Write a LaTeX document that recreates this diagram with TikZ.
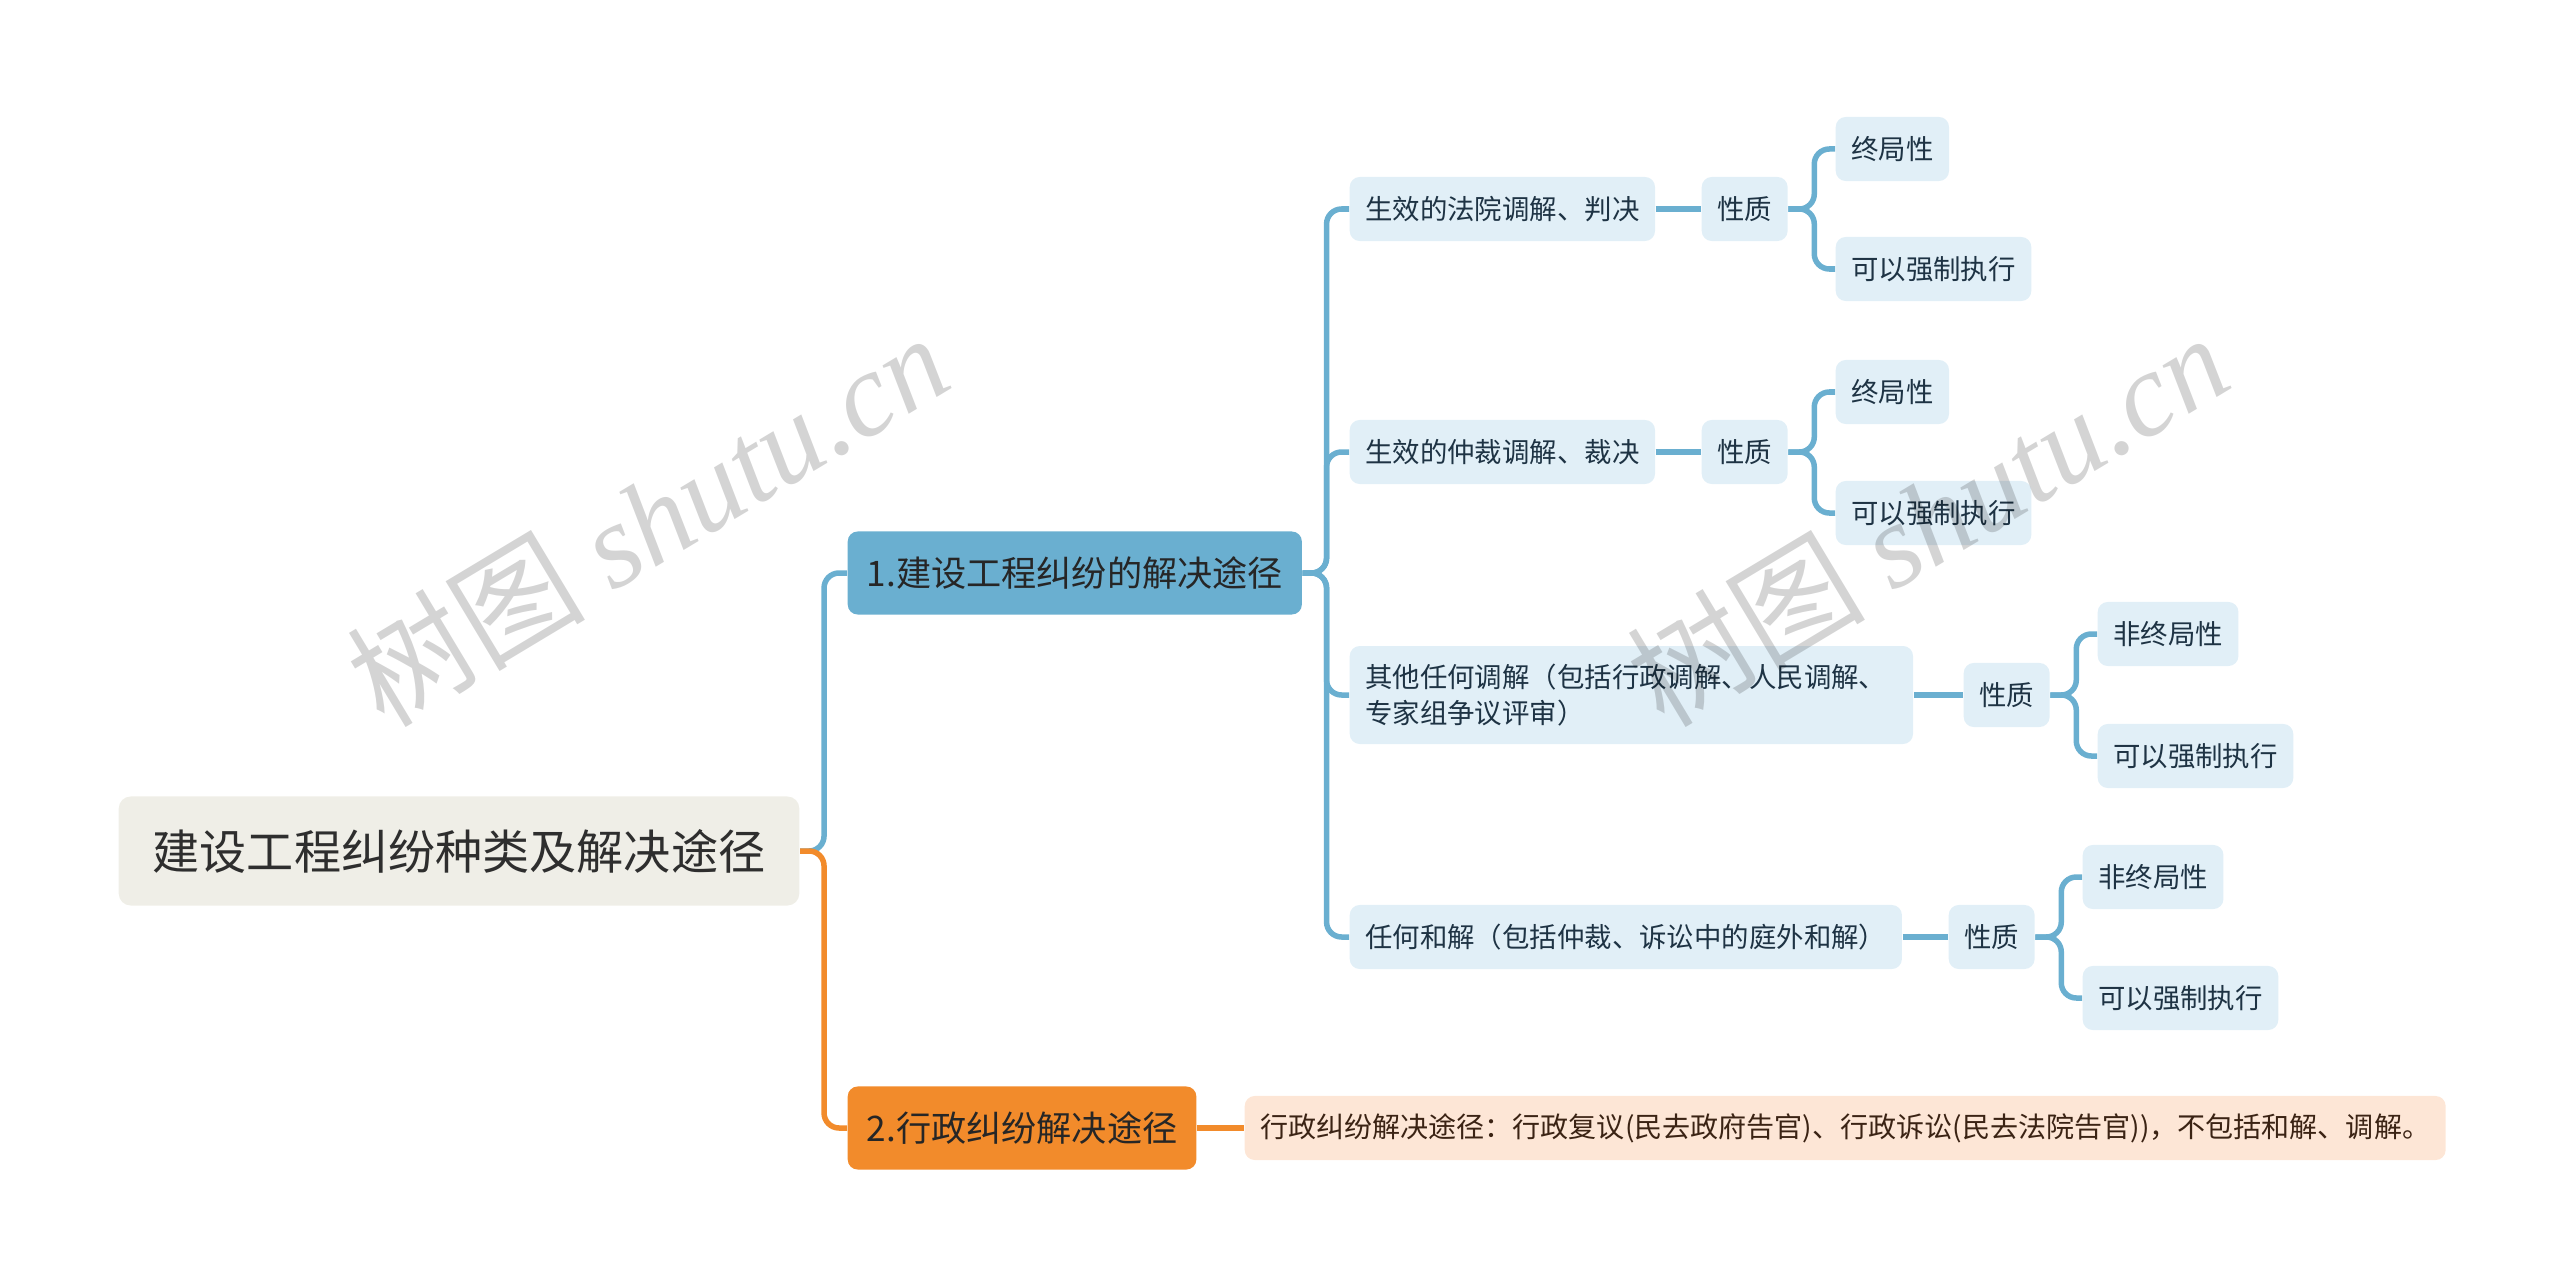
\documentclass[tikz,border=0pt]{standalone}
\usepackage{fontspec}
\setmainfont{Noto Sans CJK SC}
\newfontfamily\markfont{Liberation Serif}

\definecolor{rootfill}{HTML}{EFEEE7}
\definecolor{bluemain}{HTML}{6AAFD0}
\definecolor{bluelight}{HTML}{E1EFF7}
\definecolor{orangemain}{HTML}{F28B2B}
\definecolor{orangelight}{HTML}{FDE6D6}
\definecolor{inkblue}{HTML}{1E3344}
\definecolor{inkbrown}{HTML}{3B2314}

\tikzset{
  rootbox/.style  = {fill=rootfill, rounded corners=0.12cm, anchor=west,
                     minimum height=1.09cm, inner xsep=0.34cm, text=black!82,
                     font=\fontsize{13.4}{16}\selectfont},
  topicbox/.style = {rounded corners=0.1cm, anchor=west, minimum height=0.83cm,
                     inner xsep=0.19cm, text=black!85,
                     font=\fontsize{10}{12}\selectfont},
  subbox/.style   = {fill=bluelight, rounded corners=0.1cm, anchor=west,
                     minimum height=0.64cm, inner xsep=0.155cm, text=inkblue,
                     font=\fontsize{7.8}{10.2}\selectfont},
  notebox/.style  = {subbox, fill=orangelight, text=inkbrown,
                     font=\fontsize{7.98}{10}\selectfont},
  bluelink/.style = {draw=bluemain, line width=0.055cm, rounded corners=0.15cm},
  orangelink/.style = {draw=orangemain, line width=0.055cm, rounded corners=0.15cm},
  markstyle/.style = {text=black, text opacity=0.17, rotate=31,
                      font=\fontsize{34}{36}\selectfont}
}

\begin{document}
\begin{tikzpicture}[x=0.01cm, y=-0.01cm]
\useasboundingbox (0,0) rectangle (2560,1288);

% root and the two main topics
\node[rootbox] (root) at (118,851) {建设工程纠纷种类及解决途径};
\node[topicbox, fill=bluemain] (solve) at (847,573) {1.建设工程纠纷的解决途径};
\node[topicbox, fill=orangemain] (admin) at (847,1128) {2.行政纠纷解决途径};

% ways of solving
\node[subbox] (court) at (1349,209) {生效的法院调解、判决};
\node[subbox] (arbit) at (1349,452) {生效的仲裁调解、裁决};
\node[subbox, align=left, text width=5.32cm, inner ysep=0.18cm] (mediate) at (1349,695)
  {其他任何调解（包括行政调解、人民调解、\\专家组争议评审）};
\node[subbox] (settle) at (1349,937) {任何和解（包括仲裁、诉讼中的庭外和解）};

% nature of each way
\node[subbox] (natA) at (1701,209) {性质};
\node[subbox] (natB) at (1701,452) {性质};
\node[subbox] (natC) at (1963,695) {性质};
\node[subbox] (natD) at (1948,937) {性质};

\node[subbox] (finA) at (1835,149) {终局性};
\node[subbox] (forA) at (1835,269) {可以强制执行};
\node[subbox] (finB) at (1835,392) {终局性};
\node[subbox] (forB) at (1835,513) {可以强制执行};
\node[subbox] (finC) at (2097,634) {非终局性};
\node[subbox] (forC) at (2097,756) {可以强制执行};
\node[subbox] (finD) at (2082,877) {非终局性};
\node[subbox] (forD) at (2082,998) {可以强制执行};

% administrative disputes
\node[notebox] (note) at (1244,1128)
  {行政纠纷解决途径：行政复议(民去政府告官)、行政诉讼(民去法院告官))，不包括和解、调解。};

% connectors
\draw[bluelink] (root.east) -- ++(24,0) |- (solve.west);
\draw[orangelink] (root.east) -- ++(24,0) |- (admin.west);
\foreach \n in {court,arbit,mediate,settle}
  \draw[bluelink] (solve.east) -- ++(24,0) |- (\n.west);
\draw[bluelink] (court.east) -- (natA.west);
\draw[bluelink] (arbit.east) -- (natB.west);
\draw[bluelink] (mediate.east) -- (natC.west);
\draw[bluelink] (settle.east) -- (natD.west);
\foreach \q/\a/\b in {natA/finA/forA, natB/finB/forB, natC/finC/forC, natD/finD/forD} {
  \draw[bluelink] (\q.east) -- ++(26,0) |- (\a.west);
  \draw[bluelink] (\q.east) -- ++(26,0) |- (\b.west);
}
\draw[orangelink] (admin.east) -- (note.west);

% watermarks
\node[markstyle] (mark1) at (647,519) {树图 {\markfont\itshape shutu.cn}};
\node[markstyle] (mark2) at (1927,519) {树图 {\markfont\itshape shutu.cn}};

\end{tikzpicture}
\end{document}
